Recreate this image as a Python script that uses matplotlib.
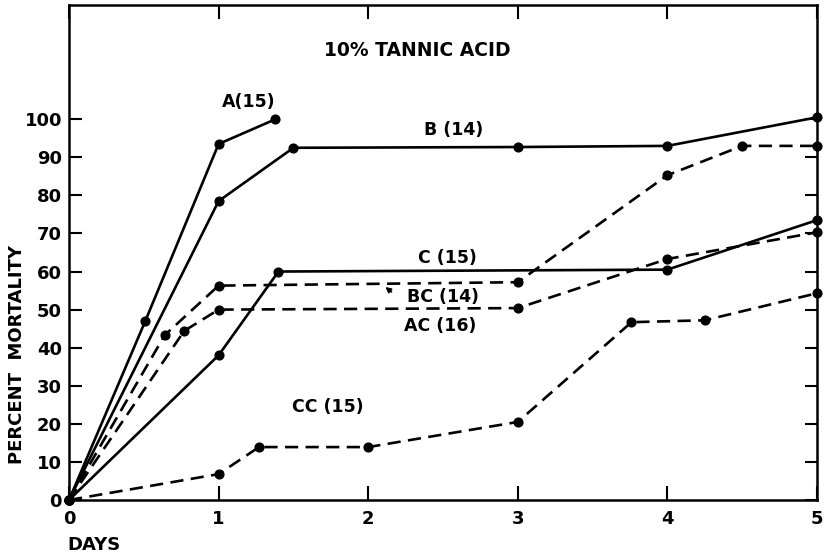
import numpy as np
import matplotlib
matplotlib.use("Agg")
from matplotlib import pyplot as plt

# mortality (%) vs days, 10% tannic acid
a_days = [0, 0.51, 1, 1.38]
a_mort = [0, 47, 93.5, 100]

b_days = [0, 1, 1.5, 3, 4, 5]
b_mort = [0, 78.5, 92.5, 92.7, 93, 100.5]

c_days = [0, 1, 1.4, 4, 5]
c_mort = [0, 38, 60, 60.5, 73.5]

bc_days = [0, 0.64, 1, 3, 4, 4.5, 5]
bc_mort = [0, 43.3, 56.3, 57.2, 85.3, 93, 93]

ac_days = [0, 0.77, 1, 3, 4, 5]
ac_mort = [0, 44.4, 50, 50.4, 63.3, 70.3]

cc_days = [0, 1, 1.27, 2, 3, 3.76, 4.25, 5]
cc_mort = [0, 6.8, 13.9, 13.9, 20.5, 46.7, 47.2, 54.3]

x_ticks = [0, 1, 2, 3, 4, 5]
y_ticks = [0, 10, 20, 30, 40, 50, 60, 70, 80, 90, 100]

plt.rcParams['font.family'] = ['DejaVu Sans']
plt.rcParams['font.weight'] = 'bold'

fig = plt.figure(figsize=(8.24, 5.56), dpi=100)
ax = fig.add_axes([69/824, 1-500/556, (817-69)/824, (500-5)/556])

solid = dict(color='black', lw=1.9, marker='o', ms=6.3, clip_on=False)
dashed = dict(color='black', lw=1.9, marker='o', ms=6.3, clip_on=False,
              linestyle=(0, (5, 2.8)))

ax.plot(a_days, a_mort, **solid)
ax.plot(b_days, b_mort, **solid)
ax.plot(c_days, c_mort, **solid)
ax.plot(bc_days, bc_mort, **dashed)
ax.plot(ac_days, ac_mort, **dashed)
ax.plot(cc_days, cc_mort, **dashed)

ax.set_xlim(0, 5)
ax.set_ylim(0, 130)
ax.set_xticks(x_ticks)
ax.set_yticks(y_ticks)
ax.set_xticklabels([str(t) for t in x_ticks])
ax.set_yticklabels([str(t) for t in y_ticks])
ax.tick_params(axis='both', direction='in', labelsize=13, width=1.5,
               top=True, right=True)
ax.tick_params(axis='y', length=9, pad=5)
ax.tick_params(axis='x', length=10, pad=7)
for s in ax.spines.values():
    s.set_linewidth(1.8)

lbl = dict(fontsize=12.5, ha='center', va='center')
ax.text(2.33, 118, '10% TANNIC ACID', fontsize=13.5, ha='center', va='center')
ax.text(1.2, 104.5, 'A(15)', **lbl)
ax.text(2.57, 97.3, 'B (14)', **lbl)
ax.text(2.53, 63.5, 'C (15)', **lbl)
ax.text(2.5, 53.4, 'BC (14)', **lbl)
ax.text(2.48, 45.6, 'AC (16)', **lbl)
ax.text(1.73, 24.4, 'CC (15)', **lbl)
ax.annotate('', xy=(2.1, 56.4), xytext=(2.17, 54.2),
            arrowprops=dict(arrowstyle='-|>', color='black', lw=1.2,
                            mutation_scale=8))

fig.text(17.5/824, 1-355/556, 'PERCENT  MORTALITY', rotation=90,
         fontsize=13, ha='center', va='center')
fig.text(67/824, 1-545/556, 'DAYS', fontsize=13, ha='left', va='center')

fig.savefig('out.png', dpi=100)
